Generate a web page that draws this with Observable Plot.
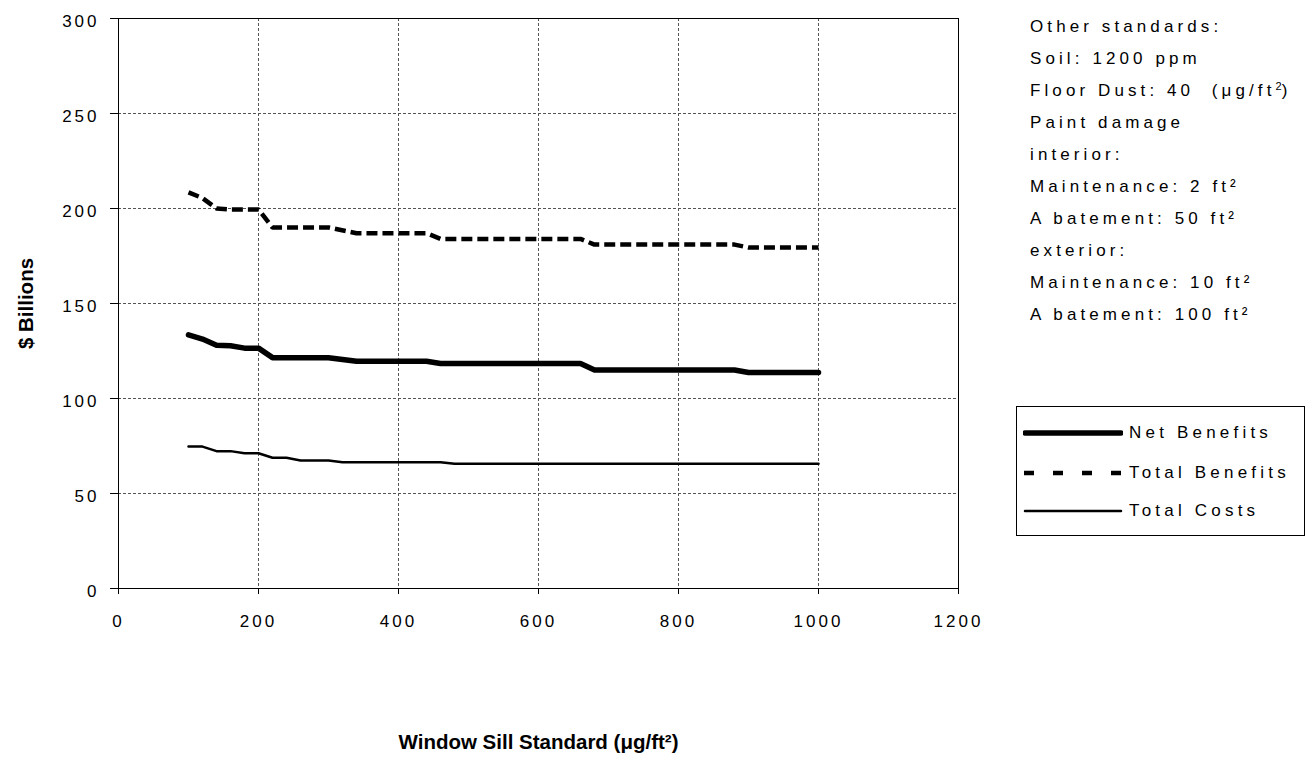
<!DOCTYPE html>
<html><head><meta charset="utf-8">
<script src="https://cdn.jsdelivr.net/npm/d3@7"></script>
<script src="https://cdn.jsdelivr.net/npm/@observablehq/plot@0.6"></script>
<style>
body{margin:0;background:#fff;}
#wrap{position:relative;width:1307px;height:759px;overflow:hidden;font-family:"Liberation Sans",Arial,sans-serif;color:#000;}
#notes{position:absolute;left:1030px;top:11px;font-size:17px;letter-spacing:4.1px;white-space:nowrap;}
#notes div{height:32px;line-height:32px;}
#legend{position:absolute;left:1016px;top:406px;width:289px;height:130px;border:1px solid #000;box-sizing:border-box;background:#fff;}
#legend .row{position:absolute;left:6px;height:20px;display:flex;align-items:center;font-size:17px;letter-spacing:4.2px;white-space:nowrap;}
#legend svg{display:block;margin-right:6px;}
</style>
</head><body>
<div id="wrap">
<div id="chart"></div>
<div id="notes"></div>
<div id="legend"></div>
</div>
<script>
// ---- data ----
const xTicks = [0, 200, 400, 600, 800, 1000, 1200];
const yTicks = [0, 50, 100, 150, 200, 250, 300];

const netX = [100, 120, 140, 160, 180, 200, 220, 300, 340, 440, 460, 660, 680, 880, 900, 1000];
const netY = [133.5, 131.3, 128, 127.8, 126.5, 126.5, 121.5, 121.5, 119.6, 119.6, 118.4, 118.4, 115, 115, 113.7, 113.7];

const benX = [100, 120, 140, 160, 200, 220, 300, 340, 440, 460, 660, 680, 880, 900, 1000];
const benY = [208.5, 205.5, 200, 199.5, 199.5, 190, 190, 187, 187, 184, 184, 181, 181, 179.5, 179.5];

const costX = [100, 120, 140, 160, 180, 200, 220, 240, 260, 300, 320, 460, 480, 1000];
const costY = [74.7, 74.7, 72.3, 72.3, 71.2, 71.2, 68.8, 68.8, 67.4, 67.4, 66.5, 66.5, 65.6, 65.6];

const seriesNames = ["Net Benefits", "Total Benefits", "Total Costs"];
const xLabel = "Window Sill Standard (μg/ft²)";
const yLabel = "$ Billions";
const noteLines = [
  "Other standards:",
  "Soil: 1200 ppm",
  "Floor Dust: 40&nbsp; (μg/ft<sup style='font-size:11px;line-height:0;vertical-align:6px;letter-spacing:0'>2</sup>)",
  "Paint damage",
  "interior:",
  "Maintenance: 2 ft²",
  "A batement: 50 ft²",
  "exterior:",
  "Maintenance: 10 ft²",
  "A batement: 100 ft²"
];

const toRows = (xs, ys) => xs.map((x, i) => ({x, y: ys[i]}));
const net = toRows(netX, netY);
const ben = toRows(benX, benY);
const cost = toRows(costX, costY);

const styles = [
  {strokeWidth: 5.5, dash: null},
  {strokeWidth: 4.5, dash: "11,5"},
  {strokeWidth: 2.5, dash: null}
];

const chart = Plot.plot({
  width: 1307,
  height: 759,
  marginLeft: 118,
  marginRight: 349,
  marginTop: 18,
  marginBottom: 171,
  style: {fontFamily: "'Liberation Sans', Arial, sans-serif", fontSize: "17px", color: "#000", background: "#fff", overflow: "visible"},
  x: {domain: [0, 1200]},
  y: {domain: [0, 300]},
  marks: [
    Plot.gridX(xTicks.filter(d => d > 0 && d < 1200), {stroke: "#555", strokeOpacity: 1, strokeDasharray: "3,2"}),
    Plot.gridY(yTicks.filter(d => d > 0 && d < 300), {stroke: "#555", strokeOpacity: 1, strokeDasharray: "3,2"}),
    Plot.frame({stroke: "#000"}),
    Plot.line(cost, {x: "x", y: "y", stroke: "#000", strokeWidth: styles[2].strokeWidth}),
    Plot.line(ben, {x: "x", y: "y", stroke: "#000", strokeWidth: styles[1].strokeWidth, strokeDasharray: styles[1].dash, strokeLinecap: "butt", strokeLinejoin: "miter"}),
    Plot.line(net, {x: "x", y: "y", stroke: "#000", strokeWidth: styles[0].strokeWidth}),
    Plot.axisX(xTicks, {tickSize: 6, tickPadding: 20, tickFormat: d => String(d), label: xLabel, labelAnchor: "center", labelOffset: 160, labelArrow: "none"}),
    Plot.axisY(yTicks, {tickSize: 8, tickPadding: 11, tickFormat: d => String(d), label: yLabel, labelAnchor: "center", labelOffset: 100, labelArrow: "none"})
  ]
});
document.getElementById("chart").appendChild(chart);

// tick label letter spacing and bold axis titles
chart.querySelectorAll('g[aria-label="x-axis tick label"] text, g[aria-label="y-axis tick label"] text').forEach(t => t.setAttribute("letter-spacing", "3px"));
const yTickLabels = chart.querySelector('g[aria-label="y-axis tick label"]');
if (yTickLabels) {
  const tr = yTickLabels.getAttribute("transform") || "";
  yTickLabels.setAttribute("transform", (tr + " translate(0,3)").trim());
}
chart.querySelectorAll('g[aria-label="x-axis label"] text, g[aria-label="y-axis label"] text').forEach(t => {
  t.setAttribute("font-weight", "bold");
  t.setAttribute("font-size", "20.5px");
});

// notes
document.getElementById("notes").innerHTML = noteLines.map(l => `<div>${l}</div>`).join("");

// legend
const legend = document.getElementById("legend");
const rowTops = [16, 56, 94];
seriesNames.forEach((name, i) => {
  const row = document.createElement("div");
  row.className = "row";
  row.style.top = rowTops[i] + "px";
  const s = styles[i];
  const dash = i === 1 ? "10,19" : null;
  row.innerHTML = `<svg width="100" height="20"><line x1="${i===1?1:2}" x2="${i===1?100:98}" y1="10" y2="10" stroke="#000" stroke-width="${s.strokeWidth}" ${dash ? `stroke-dasharray="${dash}"` : ""} stroke-linecap="${i===1?"butt":"round"}"/></svg><span>${name}</span>`;
  legend.appendChild(row);
});
</script>
</body></html>
